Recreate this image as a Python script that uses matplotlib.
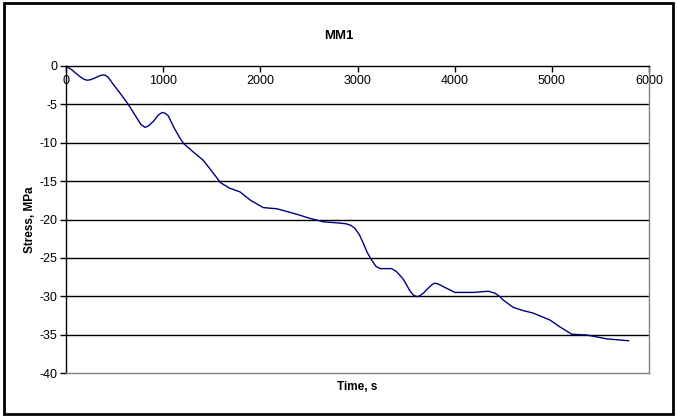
import matplotlib
matplotlib.use("Agg")
import matplotlib.pyplot as plt
from matplotlib.patches import Rectangle

plt.rcParams['font.family'] = ['Liberation Sans', 'DejaVu Sans']
plt.rcParams['axes.unicode_minus'] = False

time_s = [0, 60, 130, 180, 213, 250, 300, 350, 390, 430, 490, 560, 641, 730, 770,
          813, 850, 900, 950, 990, 1020, 1053, 1110, 1173, 1210, 1300, 1410, 1500,
          1590, 1680, 1790, 1900, 2030, 2170, 2300, 2410, 2510, 2650, 2800, 2880,
          2930, 2974, 3020, 3060, 3100, 3146, 3190, 3232, 3350, 3403, 3472, 3540,
          3575, 3609, 3640, 3677, 3740, 3770, 3797, 3830, 3883, 4003, 4192, 4346,
          4415, 4466, 4500, 4603, 4700, 4809, 4981, 5084, 5205, 5360, 5566, 5789]
stress_mpa = [0, -0.5, -1.25, -1.7, -1.85, -1.8, -1.55, -1.25, -1.15, -1.4, -2.45,
              -3.6, -5.0, -6.8, -7.6, -8.0, -7.8, -7.2, -6.4, -6.05, -6.15, -6.5,
              -8.0, -9.4, -10.1, -11.1, -12.25, -13.7, -15.2, -15.9, -16.4, -17.5,
              -18.45, -18.6, -19.05, -19.45, -19.85, -20.3, -20.45, -20.55, -20.75,
              -21.15, -22.0, -23.1, -24.3, -25.3, -26.1, -26.4, -26.4, -26.8, -27.8,
              -29.3, -29.85, -30.05, -29.95, -29.6, -28.8, -28.45, -28.3, -28.4,
              -28.75, -29.5, -29.5, -29.35, -29.6, -30.05, -30.5, -31.45, -31.85,
              -32.2, -33.1, -34.0, -34.95, -35.05, -35.55, -35.8]

x_ticks = [0, 1000, 2000, 3000, 4000, 5000, 6000]
y_ticks = [0, -5, -10, -15, -20, -25, -30, -35, -40]

fig = plt.figure(figsize=(6.77, 4.17), dpi=100)
ax = fig.add_axes([66/677, 1-373/417, (649-66)/677, (373-66)/417])

ax.plot(time_s, stress_mpa, color='#000080', linewidth=1.0)

ax.set_xlim(0, 6000)
ax.set_ylim(-40, 0)
ax.set_xticks(x_ticks)
ax.set_yticks(y_ticks)
ax.set_yticklabels([str(v) for v in y_ticks])

for v in y_ticks[1:-1]:
    ax.axhline(v, color='black', linewidth=1.0, zorder=0)

ax.xaxis.set_ticks_position('top')
ax.tick_params(axis='x', direction='in', length=4, width=1, pad=-15,
               labelsize=9, top=True, bottom=False, labeltop=True, labelbottom=False)
ax.tick_params(axis='y', direction='out', length=4, width=1, labelsize=9, pad=2)

ax.spines['left'].set_color('black')
ax.spines['top'].set_color('black')
ax.spines['right'].set_color('#808080')
ax.spines['bottom'].set_color('#808080')
for s in ax.spines.values():
    s.set_linewidth(1.0)

fig.text(0.5, 1-36/417, 'MM1', ha='center', va='center', fontsize=9.5, fontweight='bold')
fig.text(357.5/677, 1-387/417, 'Time, s', ha='center', va='center', fontsize=8.5, fontweight='bold')
fig.text(30/677, 1-220/417, 'Stress, MPa', ha='center', va='center', rotation=90,
         fontsize=8.5, fontweight='bold')

fig.patches.append(Rectangle((4/677, 3/417), 669/677, 411/417, transform=fig.transFigure,
                             fill=False, edgecolor='black', linewidth=2))

fig.savefig('out.png', dpi=100)
